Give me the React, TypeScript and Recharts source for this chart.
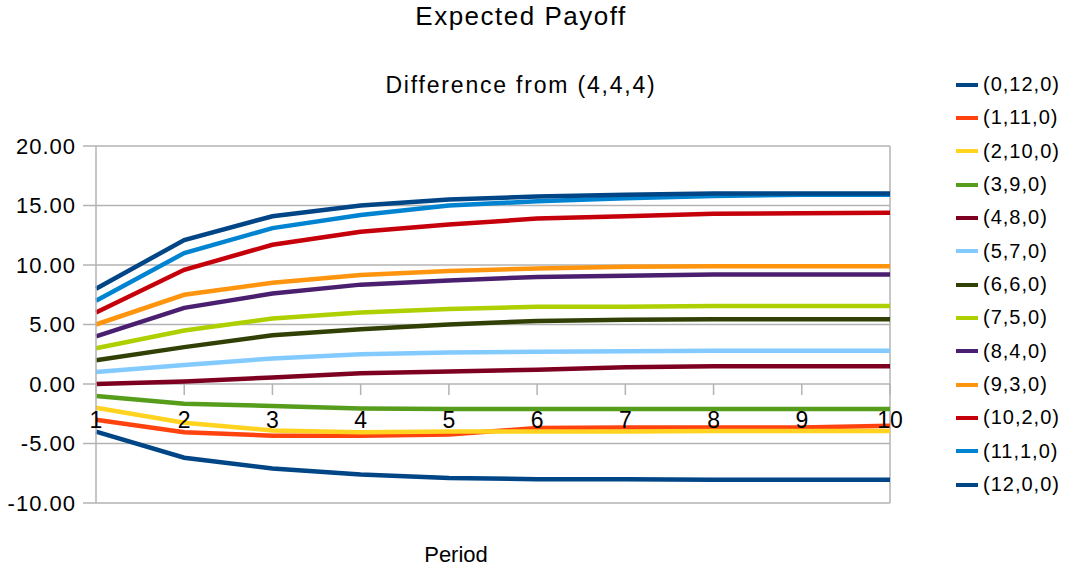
import React from 'react';
import {
  LineChart,
  Line,
  XAxis,
  YAxis,
  CartesianGrid,
  Legend,
  ReferenceLine,
  ReferenceDot
} from 'recharts';

const FONT = '"Liberation Sans", Arial, sans-serif';
const GRID = '#b3b3b3';

const periods = [1, 2, 3, 4, 5, 6, 7, 8, 9, 10];
const yTicks = [-10, -5, 0, 5, 10, 15, 20];

const s0_12_0 = [-4, -6.2, -7.1, -7.6, -7.9, -8, -8, -8.05, -8.05, -8.05];
const s1_11_0 = [-3, -4.05, -4.35, -4.35, -4.25, -3.7, -3.65, -3.65, -3.65, -3.5];
const s2_10_0 = [-2, -3.25, -3.9, -4.05, -4, -4, -4, -3.95, -3.95, -3.95];
const s3_9_0 = [-1, -1.65, -1.85, -2.05, -2.1, -2.1, -2.1, -2.1, -2.1, -2.1];
const s4_8_0 = [0, 0.2, 0.55, 0.9, 1.05, 1.2, 1.4, 1.5, 1.5, 1.5];
const s5_7_0 = [1, 1.6, 2.15, 2.5, 2.65, 2.7, 2.75, 2.8, 2.8, 2.8];
const s6_6_0 = [2, 3.1, 4.1, 4.6, 5, 5.3, 5.4, 5.45, 5.45, 5.45];
const s7_5_0 = [3, 4.5, 5.5, 6, 6.3, 6.5, 6.5, 6.55, 6.55, 6.55];
const s8_4_0 = [4, 6.4, 7.6, 8.35, 8.7, 9, 9.1, 9.2, 9.2, 9.2];
const s9_3_0 = [5, 7.5, 8.5, 9.15, 9.5, 9.7, 9.85, 9.9, 9.9, 9.9];
const s10_2_0 = [6, 9.6, 11.7, 12.8, 13.4, 13.9, 14.1, 14.3, 14.35, 14.4];
const s11_1_0 = [7, 11, 13.1, 14.2, 15, 15.35, 15.6, 15.8, 15.9, 15.9];
const s12_0_0 = [8, 12.1, 14.1, 15, 15.5, 15.75, 15.9, 16, 16, 16];

const seriesNames = [
  '(0,12,0)', '(1,11,0)', '(2,10,0)', '(3,9,0)', '(4,8,0)', '(5,7,0)', '(6,6,0)',
  '(7,5,0)', '(8,4,0)', '(9,3,0)', '(10,2,0)', '(11,1,0)', '(12,0,0)'
];
const seriesColors = [
  '#004586', '#ff420e', '#ffd320', '#579d1c', '#7e0021', '#83caff', '#314004',
  '#aecf00', '#4b1f6f', '#ff950e', '#c5000b', '#0084d1', '#004586'
];
const seriesValues = [
  s0_12_0, s1_11_0, s2_10_0, s3_9_0, s4_8_0, s5_7_0, s6_6_0,
  s7_5_0, s8_4_0, s9_3_0, s10_2_0, s11_1_0, s12_0_0
];

const data = periods.map((p, i) => {
  const row: Record<string, number> = { period: p };
  seriesValues.forEach((vals, k) => {
    row['s' + k] = vals[i];
  });
  return row;
});

// x axis sits on the zero line, so tick marks and labels are drawn there
const periodTick = (label: number) => (props: any) => (
  <g>
    <line x1={props.cx} y1={props.cy} x2={props.cx} y2={props.cy + 11} stroke={GRID} strokeWidth={1.5} />
    <text x={props.cx} y={props.cy + 44} textAnchor="middle" fontSize={23} fontFamily={FONT} fill="#000">
      {label}
    </text>
  </g>
);

// keep the legend in series order (recharts sorts by name otherwise)
const renderLegend = (props: any) => {
  const items = [...(props.payload || [])].sort(
    (a: any, b: any) => seriesNames.indexOf(a.value) - seriesNames.indexOf(b.value)
  );
  return (
    <div style={{ fontFamily: FONT }}>
      {items.map((entry: any, i: number) => (
        <div key={i} style={{ height: 33.33, display: 'flex', alignItems: 'center' }}>
          <span style={{ display: 'inline-block', width: 22, height: 4, background: entry.color, marginRight: 5 }} />
          <span style={{ fontSize: 20, letterSpacing: 1, color: '#000' }}>{entry.value}</span>
        </div>
      ))}
    </div>
  );
};

export default function App() {
  return (
    <div style={{ position: 'absolute', left: 0, top: 0, width: 1071, height: 571, background: '#fff' }}>
      <LineChart
        width={1071}
        height={571}
        data={data}
        margin={{ top: 146, right: 181, left: 8, bottom: 0 }}
      >
        <CartesianGrid vertical={false} stroke={GRID} strokeWidth={1.5} />
        <XAxis
          dataKey="period"
          type="number"
          domain={[1, 10]}
          ticks={periods}
          tick={false}
          axisLine={false}
          tickLine={false}
          height={68}
        />
        <YAxis
          domain={[-10, 20]}
          ticks={yTicks}
          width={88}
          tickSize={13}
          tickMargin={7}
          tickFormatter={(v: number) => v.toFixed(2)}
          axisLine={{ stroke: GRID, strokeWidth: 1.5 }}
          tickLine={{ stroke: GRID, strokeWidth: 1.5 }}
          tick={{ fontSize: 22, fontFamily: FONT, fill: '#000', letterSpacing: 1 }}
        />
        <ReferenceLine x={10} stroke={GRID} strokeWidth={1.5} />
        {seriesNames.map((name, k) => (
          <Line
            key={name}
            type="linear"
            dataKey={'s' + k}
            name={name}
            stroke={seriesColors[k]}
            strokeWidth={4.5}
            dot={false}
            isAnimationActive={false}
          />
        ))}
        {periods.map((p) => (
          <ReferenceDot key={p} x={p} y={0} r={0} shape={periodTick(p)} />
        ))}
        <Legend
          layout="horizontal"
          verticalAlign="middle"
          align="center"
          content={renderLegend}
          wrapperStyle={{ position: 'absolute', left: 956, top: 68, width: 115 }}
        />
      </LineChart>
      <svg
        width={1071}
        height={571}
        style={{ position: 'absolute', left: 0, top: 0, pointerEvents: 'none' }}
      >
        <text x={521} y={25} textAnchor="middle" fontSize={26} letterSpacing={1.5} fontFamily={FONT} fill="#000">
          Expected Payoff
        </text>
        <text x={521} y={93} textAnchor="middle" fontSize={23} letterSpacing={1.8} fontFamily={FONT} fill="#000">
          Difference from (4,4,4)
        </text>
        <text x={456} y={562} textAnchor="middle" fontSize={22} fontFamily={FONT} fill="#000">
          Period
        </text>
      </svg>
    </div>
  );
}
